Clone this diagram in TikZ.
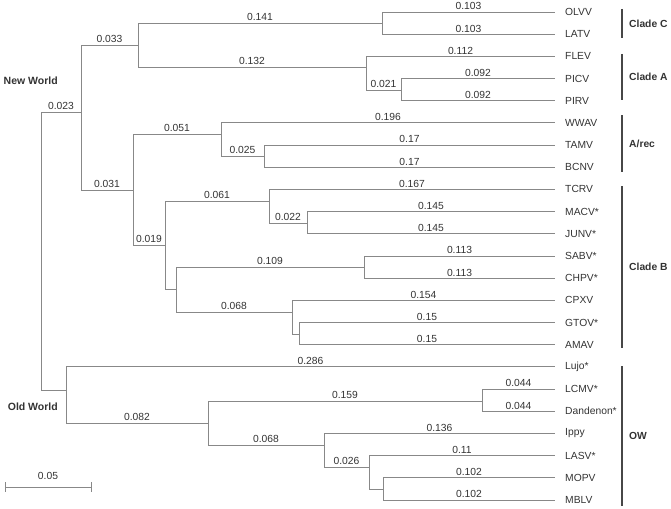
\documentclass[tikz,border=0pt]{standalone}
\usepackage{fontspec}
\setmainfont{Liberation Sans}
\usetikzlibrary{positioning}
\usetikzlibrary{calc}
\definecolor{treegray}{HTML}{888888}
\definecolor{txtgray}{HTML}{333333}

\begin{document}
\begin{tikzpicture}[x=1pt, y=-1pt,
  branch/.style={treegray, line width=0.9pt},
  bl/.style={pos=0.75, above, inner sep=1.6pt, font=\fontsize{10.3}{12}\selectfont, text=txtgray},
  leaf/.style={anchor=west, inner sep=0pt, font=\fontsize{10.3}{12}\selectfont, text=txtgray},
  cladebar/.style={line width=2.4pt, draw=txtgray!90},
  cladelab/.style={anchor=west, inner sep=0pt, font=\fontsize{10.3}{12}\selectfont\bfseries, text=txtgray},
  worldlab/.style={anchor=east, inner sep=0pt, font=\fontsize{10.5}{12}\selectfont\bfseries, text=txtgray}]
  \useasboundingbox (0,0) rectangle (671,508);

  % leaves, tips at x=555
  \foreach \tag/\txt [count=\k from 0] in {olvv/OLVV, latv/LATV, flev/FLEV, picv/PICV, pirv/PIRV,
      wwav/WWAV, tamv/TAMV, bcnv/BCNV, tcrv/TCRV, macv/MACV*, junv/JUNV*, sabv/SABV*, chpv/CHPV*,
      cpxv/CPXV, gtov/GTOV*, amav/AMAV, lujo/Lujo*, lcmv/LCMV*, dand/Dandenon*, ippy/Ippy,
      lasv/LASV*, mopv/MOPV, mblv/MBLV} {
    \pgfmathsetmacro\yy{12+22.18*\k}
    \coordinate (\tag) at (555,\yy);
    \node[leaf] (lab-\tag) at (565,\yy) {\txt};
  }

  % internal nodes
  \coordinate (root) at (41,251);
  \coordinate (nw) at (81,112);
  \coordinate (ca) at (138,45);
  \coordinate (cc) at (382,23);
  \coordinate (cla) at (366,67);
  \coordinate (pp) at (401,90);
  \coordinate (n31) at (133,190);
  \coordinate (arec) at (221,134);
  \coordinate (tb) at (264,156);
  \coordinate (n19) at (165,245);
  \coordinate (tcr) at (269,201);
  \coordinate (mj) at (307,223);
  \coordinate (n109) at (176,289);
  \coordinate (sc) at (364,267);
  \coordinate (n68) at (292,312);
  \coordinate (ga) at (299,334);
  \coordinate (ow) at (66,390);
  \coordinate (n82) at (208,423);
  \coordinate (ld) at (482,401);
  \coordinate (n68b) at (324,445);
  \coordinate (n26) at (369,467);
  \coordinate (mm) at (383,489);

  % branches
  \draw[branch] (root) |- node[bl]{0.023} (nw);
  \draw[branch] (root) |- (ow);
  \draw[branch] (nw) |- node[bl]{0.033} (ca);
  \draw[branch] (nw) |- node[bl]{0.031} (n31);
  \draw[branch] (ca) |- node[bl]{0.141} (cc);
  \draw[branch] (ca) |- node[bl]{0.132} (cla);
  \draw[branch] (cc) |- node[bl]{0.103} (olvv);
  \draw[branch] (cc) |- node[bl]{0.103} (latv);
  \draw[branch] (cla) |- node[bl]{0.112} (flev);
  \draw[branch] (cla) |- node[bl]{0.021} (pp);
  \draw[branch] (pp) |- node[bl]{0.092} (picv);
  \draw[branch] (pp) |- node[bl]{0.092} (pirv);
  \draw[branch] (n31) |- node[bl]{0.051} (arec);
  \draw[branch] (n31) |- node[bl]{0.019} (n19);
  \draw[branch] (arec) |- node[bl]{0.196} (wwav);
  \draw[branch] (arec) |- node[bl]{0.025} (tb);
  \draw[branch] (tb) |- node[bl]{0.17} (tamv);
  \draw[branch] (tb) |- node[bl]{0.17} (bcnv);
  \draw[branch] (n19) |- node[bl]{0.061} (tcr);
  \draw[branch] (n19) |- (n109);
  \draw[branch] (tcr) |- node[bl]{0.167} (tcrv);
  \draw[branch] (tcr) |- node[bl]{0.022} (mj);
  \draw[branch] (mj) |- node[bl]{0.145} (macv);
  \draw[branch] (mj) |- node[bl]{0.145} (junv);
  \draw[branch] (n109) |- node[bl]{0.109} (sc);
  \draw[branch] (n109) |- node[bl]{0.068} (n68);
  \draw[branch] (sc) |- node[bl]{0.113} (sabv);
  \draw[branch] (sc) |- node[bl]{0.113} (chpv);
  \draw[branch] (n68) |- node[bl]{0.154} (cpxv);
  \draw[branch] (n68) |- (ga);
  \draw[branch] (ga) |- node[bl]{0.15} (gtov);
  \draw[branch] (ga) |- node[bl]{0.15} (amav);
  \draw[branch] (ow) |- node[bl]{0.286} (lujo);
  \draw[branch] (ow) |- node[bl]{0.082} (n82);
  \draw[branch] (n82) |- node[bl]{0.159} (ld);
  \draw[branch] (n82) |- node[bl]{0.068} (n68b);
  \draw[branch] (ld) |- node[bl]{0.044} (lcmv);
  \draw[branch] (ld) |- node[bl]{0.044} (dand);
  \draw[branch] (n68b) |- node[bl]{0.136} (ippy);
  \draw[branch] (n68b) |- node[bl]{0.026} (n26);
  \draw[branch] (n26) |- node[bl]{0.11} (lasv);
  \draw[branch] (n26) |- (mm);
  \draw[branch] (mm) |- node[bl]{0.102} (mopv);
  \draw[branch] (mm) |- node[bl]{0.102} (mblv);

  % groups
  \node[worldlab] (newworld) at (58,81) {New World};
  \node[worldlab] (oldworld) at (58,407) {Old World};

  % clade bars
  \draw[cladebar] (622,9) -- (622,38) node[midway, right=6pt, cladelab] (cladeC) {Clade C};
  \draw[cladebar] (622,54) -- (622,100) node[midway, right=6pt, cladelab] (cladeA) {Clade A};
  \draw[cladebar] (622,115) -- (622,172) node[midway, right=6pt, cladelab] (arecl) {A/rec};
  \draw[cladebar] (622,186) -- (622,348) node[midway, right=6pt, cladelab] (cladeB) {Clade B};
  \draw[cladebar] (622,366) -- (622,506) node[midway, right=6pt, cladelab] (owl) {OW};

  % scale bar
  \coordinate (sb1) at (5,487);
  \coordinate (sb2) at (91,487);
  \draw[branch] (sb1) -- node[above=6pt, inner sep=1pt, font=\fontsize{10.3}{12}\selectfont, text=txtgray] (sblab) {0.05} (sb2);
  \draw[branch] ($(sb1)+(0,-5)$) -- ($(sb1)+(0,5)$);
  \draw[branch] ($(sb2)+(0,-5)$) -- ($(sb2)+(0,5)$);
\end{tikzpicture}
\end{document}
